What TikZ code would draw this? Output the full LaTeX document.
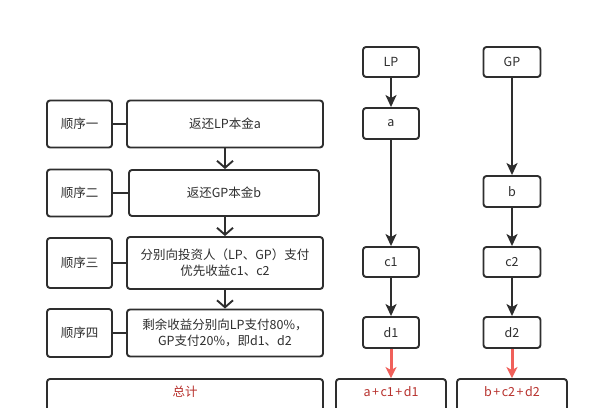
\documentclass[tikz,border=0pt]{standalone}
\usepackage{fontspec}
\setmainfont{Noto Sans CJK SC}
\usetikzlibrary{arrows.meta}
\definecolor{ink}{HTML}{2E2E2E}
\definecolor{redtxt}{HTML}{B8322E}
\definecolor{redarr}{HTML}{F0605A}
\newcommand{\pls}{\hspace{1.5pt}+\hspace{1.5pt}}
\begin{document}
\begin{tikzpicture}[x=1pt,y=-1pt,
 box/.style={draw=ink, line width=1.9pt, rounded corners=3pt, fill=white, inner sep=0pt,
   font=\fontsize{12.5}{16}\selectfont, text=ink, align=center},
 sbox/.style={box, minimum width=65pt},
 mbox/.style={box, minimum width=196pt},
 rbox/.style={box, minimum width=56pt, minimum height=30pt},
 tbox/.style={box, minimum width=110pt, minimum height=46pt},
 ttext/.style={font=\fontsize{12.5}{16}\selectfont, text=redtxt, inner sep=0pt},
 link/.style={draw=ink, line width=1.9pt},
 vee/.style={link, -{Straight Barb[length=7pt,width=16pt]}},
 tri/.style={link, -{Stealth[length=12pt,width=11pt,inset=3pt]}},
 redtri/.style={draw=redarr, line width=3pt, -{Stealth[length=11pt,width=11pt,inset=3pt]}}
]
\clip (0,0) rectangle (599,407);
\fill[white] (0,0) rectangle (599,407);

% left column
\node[sbox, minimum height=47pt] (s1) at (79.5,124) {顺序一};
\node[mbox, minimum height=47pt] (m1) at (225,124) {返还LP本金a};
\node[sbox, minimum height=47pt] (s2) at (79.5,193) {顺序二};
\node[mbox, minimum width=190pt, minimum height=46pt] (m2) at (224,193) {返还GP本金b};
\node[sbox, minimum height=50pt] (s3) at (79.5,263) {顺序三};
\node[mbox, minimum height=52pt] (m3) at (225,263) {分别向投资人（LP、GP）支付\\优先收益c1、c2};
\node[sbox, minimum height=48pt] (s4) at (79.5,333) {顺序四};
\node[mbox, minimum height=47pt] (m4) at (225,333) {剩余收益分别向LP支付80\%，\\GP支付20\%，即d1、d2};
\node[box, minimum width=276pt, minimum height=46pt] (tot) at (185,402) {};
\node[ttext] (totl) at ([yshift=-14pt]tot.north) {总计};

\draw[link] (s1) -- (m1);
\draw[link] (s2) -- (m2);
\draw[link] (s3) -- (m3);
\draw[link] (s4) -- (m4);
\draw[vee] (m1.south -| 225,0) -- (m2.north -| 225,0);
\draw[vee] (m2.south -| 225,0) -- (m3.north -| 225,0);
\draw[vee] (m3.south -| 225,0) -- (m4.north -| 225,0);

% LP column
\node[rbox] (lp) at (391,62) {LP};
\node[rbox, minimum height=31pt] (a) at (391,123.5) {a};
\node[rbox] (c1) at (391,262) {c1};
\node[rbox, minimum height=31pt] (d1) at (391,332.5) {d1};
\node[tbox] (t1) at (391,402) {};
\node[ttext] (t1l) at ([yshift=-14pt]t1.north) {a\pls c1\pls d1};

% GP column
\node[rbox, minimum width=57pt] (gp) at (512,62) {GP};
\node[rbox, minimum width=57pt, minimum height=31pt] (b) at (512,191.5) {b};
\node[rbox, minimum width=57pt] (c2) at (512,262) {c2};
\node[rbox, minimum width=57pt, minimum height=31pt] (d2) at (512,332.5) {d2};
\node[tbox] (t2) at (512,402) {};
\node[ttext] (t2l) at ([yshift=-14pt]t2.north) {b\pls c2\pls d2};

\draw[tri] (lp) -- (a);
\draw[tri] (a) -- (c1);
\draw[tri] (c1) -- (d1);
\draw[redtri] (d1) -- (t1.north -| d1);
\draw[tri] (gp) -- (b);
\draw[tri] (b) -- (c2);
\draw[tri] (c2) -- (d2);
\draw[redtri] (d2) -- (t2.north -| d2);
\end{tikzpicture}
\end{document}
